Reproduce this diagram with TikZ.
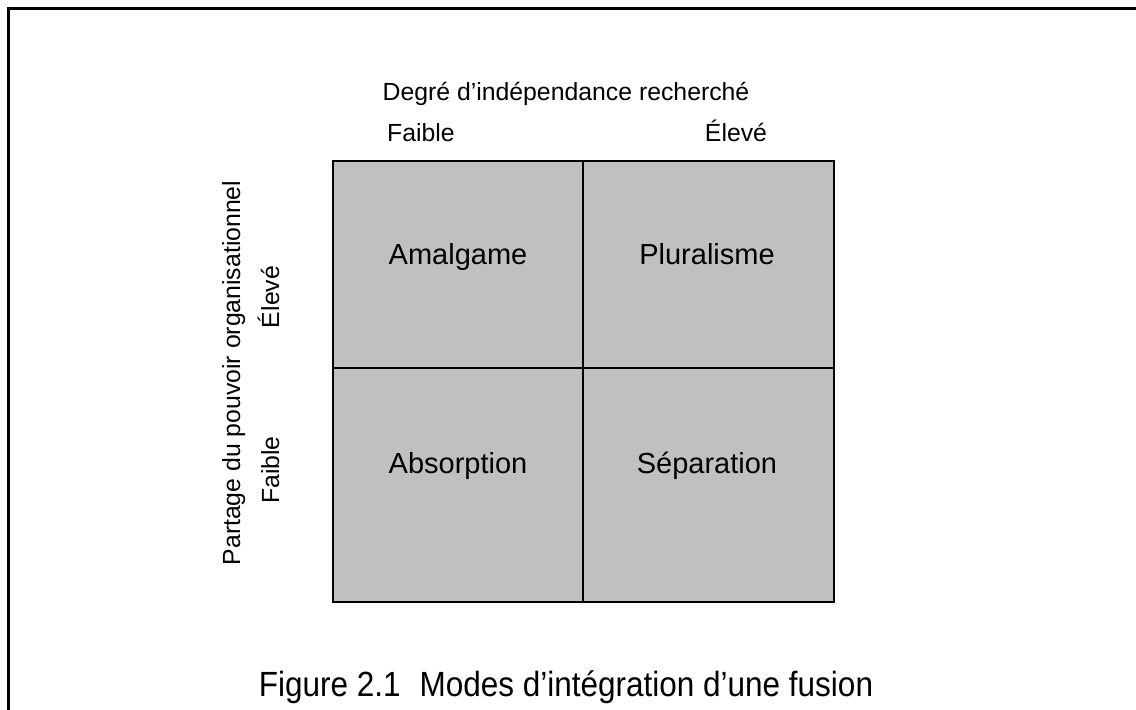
\documentclass[tikz,border=0pt]{standalone}
\usepackage{fontspec}
\setmainfont{Liberation Sans}
\begin{document}
\begin{tikzpicture}[x=0.5pt,y=-0.5pt,
  cell/.style={draw=black,line width=1pt,fill=cellgray},
  quad/.style={font=\fontsize{14.5}{17}\selectfont,anchor=base},
  axis/.style={font=\fontsize{12.4}{14}\selectfont,anchor=base},
  frameline/.style={line width=1.5pt,line cap=rect}]
\definecolor{cellgray}{RGB}{192,192,192}
\useasboundingbox (0,0) rectangle (1136,710);
% open frame: top and left sides
\coordinate (ftl) at (8,9);
\coordinate (ftr) at (1136,9);
\coordinate (fbl) at (8,710);
\draw[frameline] (ftr) -- (ftl) -- (fbl);
% the four quadrants
\node[cell,minimum width=125pt,minimum height=103.5pt,anchor=north west,inner sep=0] (q11) at (332,160) {};
\node[cell,minimum width=125.5pt,minimum height=103.5pt,anchor=north west,inner sep=0] (q12) at (582,160) {};
\node[cell,minimum width=125pt,minimum height=117pt,anchor=north west,inner sep=0] (q21) at (332,367) {};
\node[cell,minimum width=125.5pt,minimum height=117pt,anchor=north west,inner sep=0] (q22) at (582,367) {};
\node[quad] (amal) at (458,265) {Amalgame};
\node[quad] (plur) at (707,265) {Pluralisme};
\node[quad] (abs) at (458,474) {Absorption};
\node[quad] (sep) at (707,474) {Séparation};
% horizontal axis
\node[axis] (hx) at (566,101) {Degré d’indépendance recherché};
\node[axis] (hlo) at (421,142) {Faible};
\node[axis] (hhi) at (736,142) {Élevé};
% vertical axis
\node[axis,rotate=90] (vx) at (240,373) {Partage du pouvoir organisationnel};
\node[axis,rotate=90] (vhi) at (279,297) {Élevé};
\node[axis,rotate=90] (vlo) at (279,470) {Faible};
% caption
\node[font=\fontsize{17.5}{20}\selectfont,anchor=base,xscale=0.9] (cap) at (566,697) {Figure 2.1\hspace{0.6em}Modes d’intégration d’une fusion};
\end{tikzpicture}
\end{document}
